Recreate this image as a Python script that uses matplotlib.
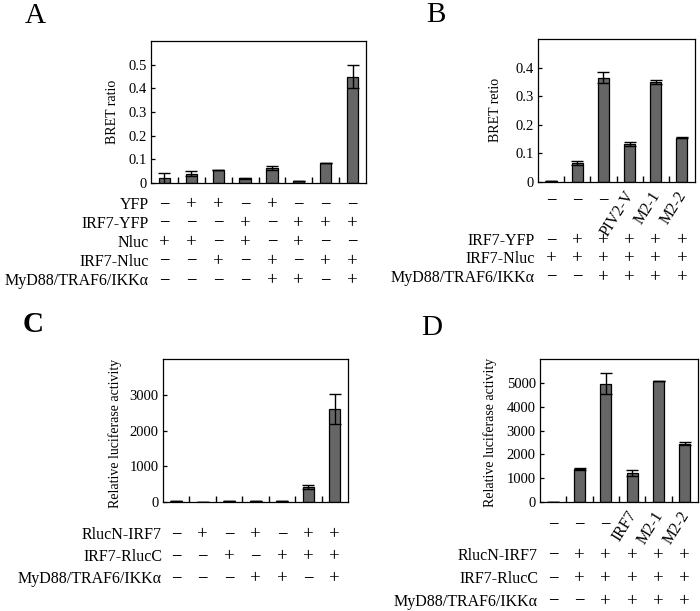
import numpy as np
import matplotlib
matplotlib.use('Agg')
import matplotlib.pyplot as plt
import matplotlib.transforms as mtransforms

plt.rcParams['font.family'] = ['Liberation Serif', 'DejaVu Serif']

W, H = 700, 611

# ---- data ----
A_vals = [0.020, 0.040, 0.056, 0.020, 0.062, 0.008, 0.083, 0.450]
A_err = [0.023, 0.010, 0.0, 0.003, 0.008, 0.0, 0.0, 0.048]
A_rows = ['YFP', 'IRF7-YFP', 'Nluc', 'IRF7-Nluc', 'MyD88/TRAF6/IKKα']
A_table = ['−++−+−−−',
           '−−−+−+++',
           '++−+−+−−',
           '−−+−+−++',
           '−−−−++−+']

B_vals = [0.002, 0.065, 0.365, 0.133, 0.350, 0.155]
B_err = [0.0, 0.007, 0.018, 0.006, 0.008, 0.002]
B_top = ['−', '−', '−', 'PIV2-V', 'M2-1', 'M2-2']
B_rows = ['IRF7-YFP', 'IRF7-Nluc', 'MyD88/TRAF6/IKKα']
B_table = ['−+++++', '++++++', '−−++++']

C_vals = [20, 8, 15, 15, 15, 420, 2600]
C_err = [0, 0, 0, 0, 0, 60, 420]
C_rows = ['RlucN-IRF7', 'IRF7-RlucC', 'MyD88/TRAF6/IKKα']
C_table = ['−+−+−++', '−−+−+++', '−−−++−+']

D_vals = [20, 1400, 4960, 1220, 5080, 2450]
D_err = [0, 40, 440, 130, 0, 50]
D_top = ['−', '−', '−', 'IRF7', 'M2-1', 'M2-2']
D_rows = ['RlucN-IRF7', 'IRF7-RlucC', 'MyD88/TRAF6/IKKα']
D_table = ['−+++++', '−+++++', '−−++++']

fig = plt.figure(figsize=(W / 100, H / 100), dpi=100)


def px_axes(l, r, t, b):
    return fig.add_axes([l / W, 1 - b / H, (r - l) / W, (b - t) / H])


def fy(y):
    return 1 - y / H


def bar_panel(box, vals, err, ymax, yticks, ylabels, ylab, ylab_xy):
    ax = px_axes(*box)
    x = np.arange(len(vals))
    ax.bar(x, vals, width=0.42, color='#666666', edgecolor='black', linewidth=0.9)
    ax.errorbar(x, vals, yerr=err, fmt='none', ecolor='black', elinewidth=1.0,
                capsize=4, capthick=1.0)
    ax.set_xlim(-0.5, len(vals) - 0.5)
    ax.set_ylim(0, ymax)
    ax.set_yticks(yticks)
    ax.set_yticklabels(ylabels, fontsize=10.5)
    ax.set_xticks([])
    ax.set_xticks(np.arange(len(vals) - 1) + 0.5, minor=True)
    ax.tick_params(axis='x', which='minor', direction='in', length=4, width=1)
    ax.tick_params(axis='y', direction='in', length=3, width=0.9, pad=3)
    for s in ax.spines.values():
        s.set_linewidth(0.9)
    fig.text(ylab_xy[0] / W, fy(ylab_xy[1]), ylab, rotation=90, fontsize=10,
             ha='center', va='center')
    return ax


def table(ax, rows, marks, ys, label_x, fs=11.5):
    tr = mtransforms.blended_transform_factory(ax.transData, fig.transFigure)
    for name, row, y in zip(rows, marks, ys):
        fig.text(label_x / W, fy(y), name, ha='right', va='center', fontsize=fs)
        for i, m in enumerate(row):
            ax.text(i, fy(y), m, transform=tr, ha='center', va='center',
                    fontsize=13.5, clip_on=False)


def top_labels(ax, labels, y_dash, y_rot):
    tr = mtransforms.blended_transform_factory(ax.transData, fig.transFigure)
    for i, lab in enumerate(labels):
        if lab == '−':
            ax.text(i, fy(y_dash), lab, transform=tr, ha='center', va='center',
                    fontsize=13.5)
        else:
            ax.text(i + 0.3, fy(y_rot), lab, transform=tr, ha='right', va='top',
                    rotation=58, fontsize=11.5)


# A
axA = bar_panel((151, 366, 41, 183), A_vals, A_err, 0.6,
                [0, 0.1, 0.2, 0.3, 0.4, 0.5], ['0', '0.1', '0.2', '0.3', '0.4', '0.5'],
                'BRET ratio', (112, 112))
table(axA, A_rows, A_table, [205, 224, 243, 262, 281], 149)

# B
axB = bar_panel((538, 695, 39, 182), B_vals, B_err, 0.5,
                [0, 0.1, 0.2, 0.3, 0.4], ['0', '0.1', '0.2', '0.3', '0.4'],
                'BRET retio', (495, 110))
top_labels(axB, B_top, 202, 188)
table(axB, B_rows, B_table, [241, 259, 278], 535)

# C
axC = bar_panel((163, 348, 359, 502), C_vals, C_err, 4000,
                [0, 1000, 2000, 3000], ['0', '1000', '2000', '3000'],
                'Relative luciferase activity', (115, 433))
table(axC, C_rows, C_table, [535, 557, 579], 162)

# D
axD = bar_panel((540, 698, 359, 502), D_vals, D_err, 6000,
                [0, 1000, 2000, 3000, 4000, 5000],
                ['0', '1000', '2000', '3000', '4000', '5000'],
                'Relative luciferase activity', (490, 432))
top_labels(axD, D_top, 526, 508)
table(axD, D_rows, D_table, [556, 579, 602], 538)

# panel letters
fig.text(35 / W, fy(16), 'A', fontsize=21, ha='center', va='center')
fig.text(436 / W, fy(15), 'B', fontsize=21, ha='center', va='center')
fig.text(33 / W, fy(325), 'C', fontsize=21, ha='center', va='center', weight='bold')
fig.text(432 / W, fy(328), 'D', fontsize=21, ha='center', va='center')

fig.savefig('out.png', dpi=100)
